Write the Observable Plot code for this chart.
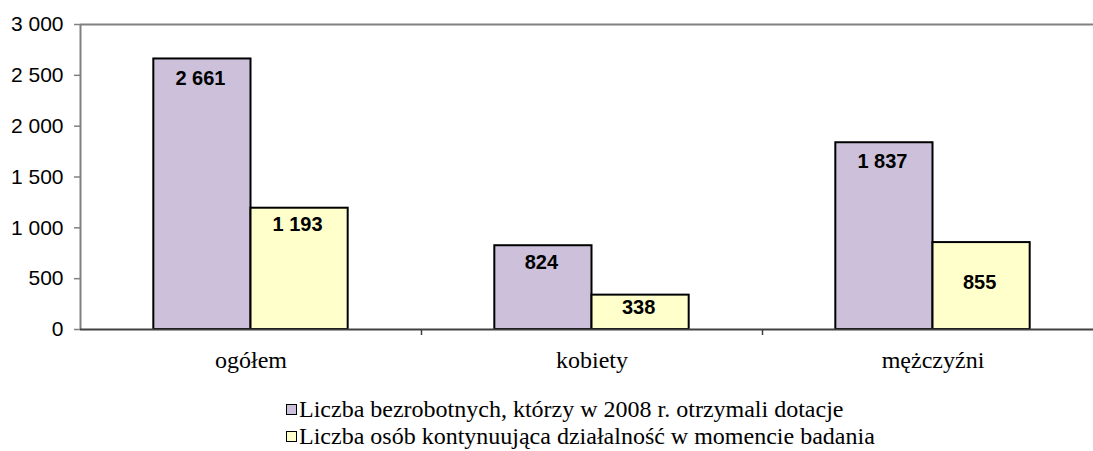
<!DOCTYPE html>
<html>
<head>
<meta charset="utf-8">
<script src="https://cdn.jsdelivr.net/npm/d3@7"></script>
<script src="https://cdn.jsdelivr.net/npm/@observablehq/plot@0.6"></script>
<style>
  html, body { margin: 0; padding: 0; background: #fff; }
  #chart { width: 1093px; height: 451px; position: relative; overflow: hidden; }
  .legend { position: absolute; left: 286px; top: 396px; font-family: "Liberation Serif", "Times New Roman", serif; font-size: 24px; color: #000; }
  .legend .row { display: flex; align-items: center; height: 27px; white-space: nowrap; }
  .legend .sw { width: 11px; height: 11px; border: 1px solid #000; margin-right: 2px; box-sizing: border-box; flex: none; }
</style>
</head>
<body>
<div id="chart"></div>
<script>
const categories = ["ogółem", "kobiety", "mężczyźni"];
const seriesNames = [
  "Liczba bezrobotnych, którzy w 2008 r. otrzymali dotacje",
  "Liczba osób kontynuująca działalność w momencie badania"
];
const dotacje = [2661, 824, 1837];
const kontynuujacy = [1193, 338, 855];
const yTicks = [0, 500, 1000, 1500, 2000, 2500, 3000];
const colors = ["#CCC0DA", "#FFFFCC"];

// label placement inside bars (pixels below bar top), per category × series
const labelDrop = [[20, 16], [17, 12], [19, 40]];

const fmt = d3.formatLocale({decimal: ",", thousands: " ", grouping: [3], currency: ["", " zł"]}).format(",d");

const barW = 0.285;
const rows = [];
categories.forEach((c, i) => {
  [dotacje, kontynuujacy].forEach((arr, s) => {
    rows.push({category: c, idx: i, series: seriesNames[s], s, value: arr[i],
      x1: i + 0.5 - barW + s * barW, x2: i + 0.5 + s * barW});
  });
});

const labelMarks = rows.map(r =>
  Plot.text([r], {x: d => (d.x1 + d.x2) / 2, y: "value", text: d => fmt(d.value),
    dy: labelDrop[r.idx][r.s], dx: -2, fontWeight: "bold", fontSize: 20, fill: "#000"})
);

const chart = Plot.plot({
  width: 1093,
  height: 385,
  marginLeft: 80,
  marginRight: 0,
  marginTop: 24,
  marginBottom: 56,
  style: {fontFamily: "Arial, 'Liberation Sans', sans-serif", fontSize: "21px", color: "#000", background: "#fff"},
  x: {domain: [0, 3], range: [80, 1103]},
  y: {domain: [0, 3000], label: null},
  color: {domain: seriesNames, range: colors},
  marks: [
    Plot.ruleY([3000], {stroke: "#808080", strokeWidth: 2}),
    Plot.ruleX([0], {stroke: "#808080", strokeWidth: 2}),
    Plot.axisY({ticks: yTicks, tickFormat: fmt, tickSize: 6, tickPadding: 11, stroke: "#808080", strokeWidth: 1.5, label: null, fontSize: 21}),
    Plot.rectY(rows, {x1: "x1", x2: "x2", y: "value", fill: "series", stroke: "#000", strokeWidth: 2}),
    ...labelMarks,
    Plot.ruleY([0], {stroke: "#404040", strokeWidth: 2}),
    Plot.axisX({ticks: [1, 2], tickFormat: () => "", tickSize: 6, stroke: "#404040", strokeWidth: 1.5, label: null}),
    Plot.axisX({ticks: categories.map((c, i) => i + 0.5), tickFormat: (d) => categories[Math.floor(d)], tickSize: 0, tickPadding: 21, label: null, fontFamily: "'Liberation Serif', 'Times New Roman', serif", fontSize: 24})
  ]
});

const root = document.getElementById("chart");
root.appendChild(chart);
const legend = document.createElement("div");
legend.className = "legend";
seriesNames.forEach((name, i) => {
  const row = document.createElement("div");
  row.className = "row";
  const sw = document.createElement("span");
  sw.className = "sw";
  sw.style.background = colors[i];
  const t = document.createElement("span");
  t.textContent = name;
  row.appendChild(sw);
  row.appendChild(t);
  legend.appendChild(row);
});
root.appendChild(legend);
</script>
</body>
</html>
